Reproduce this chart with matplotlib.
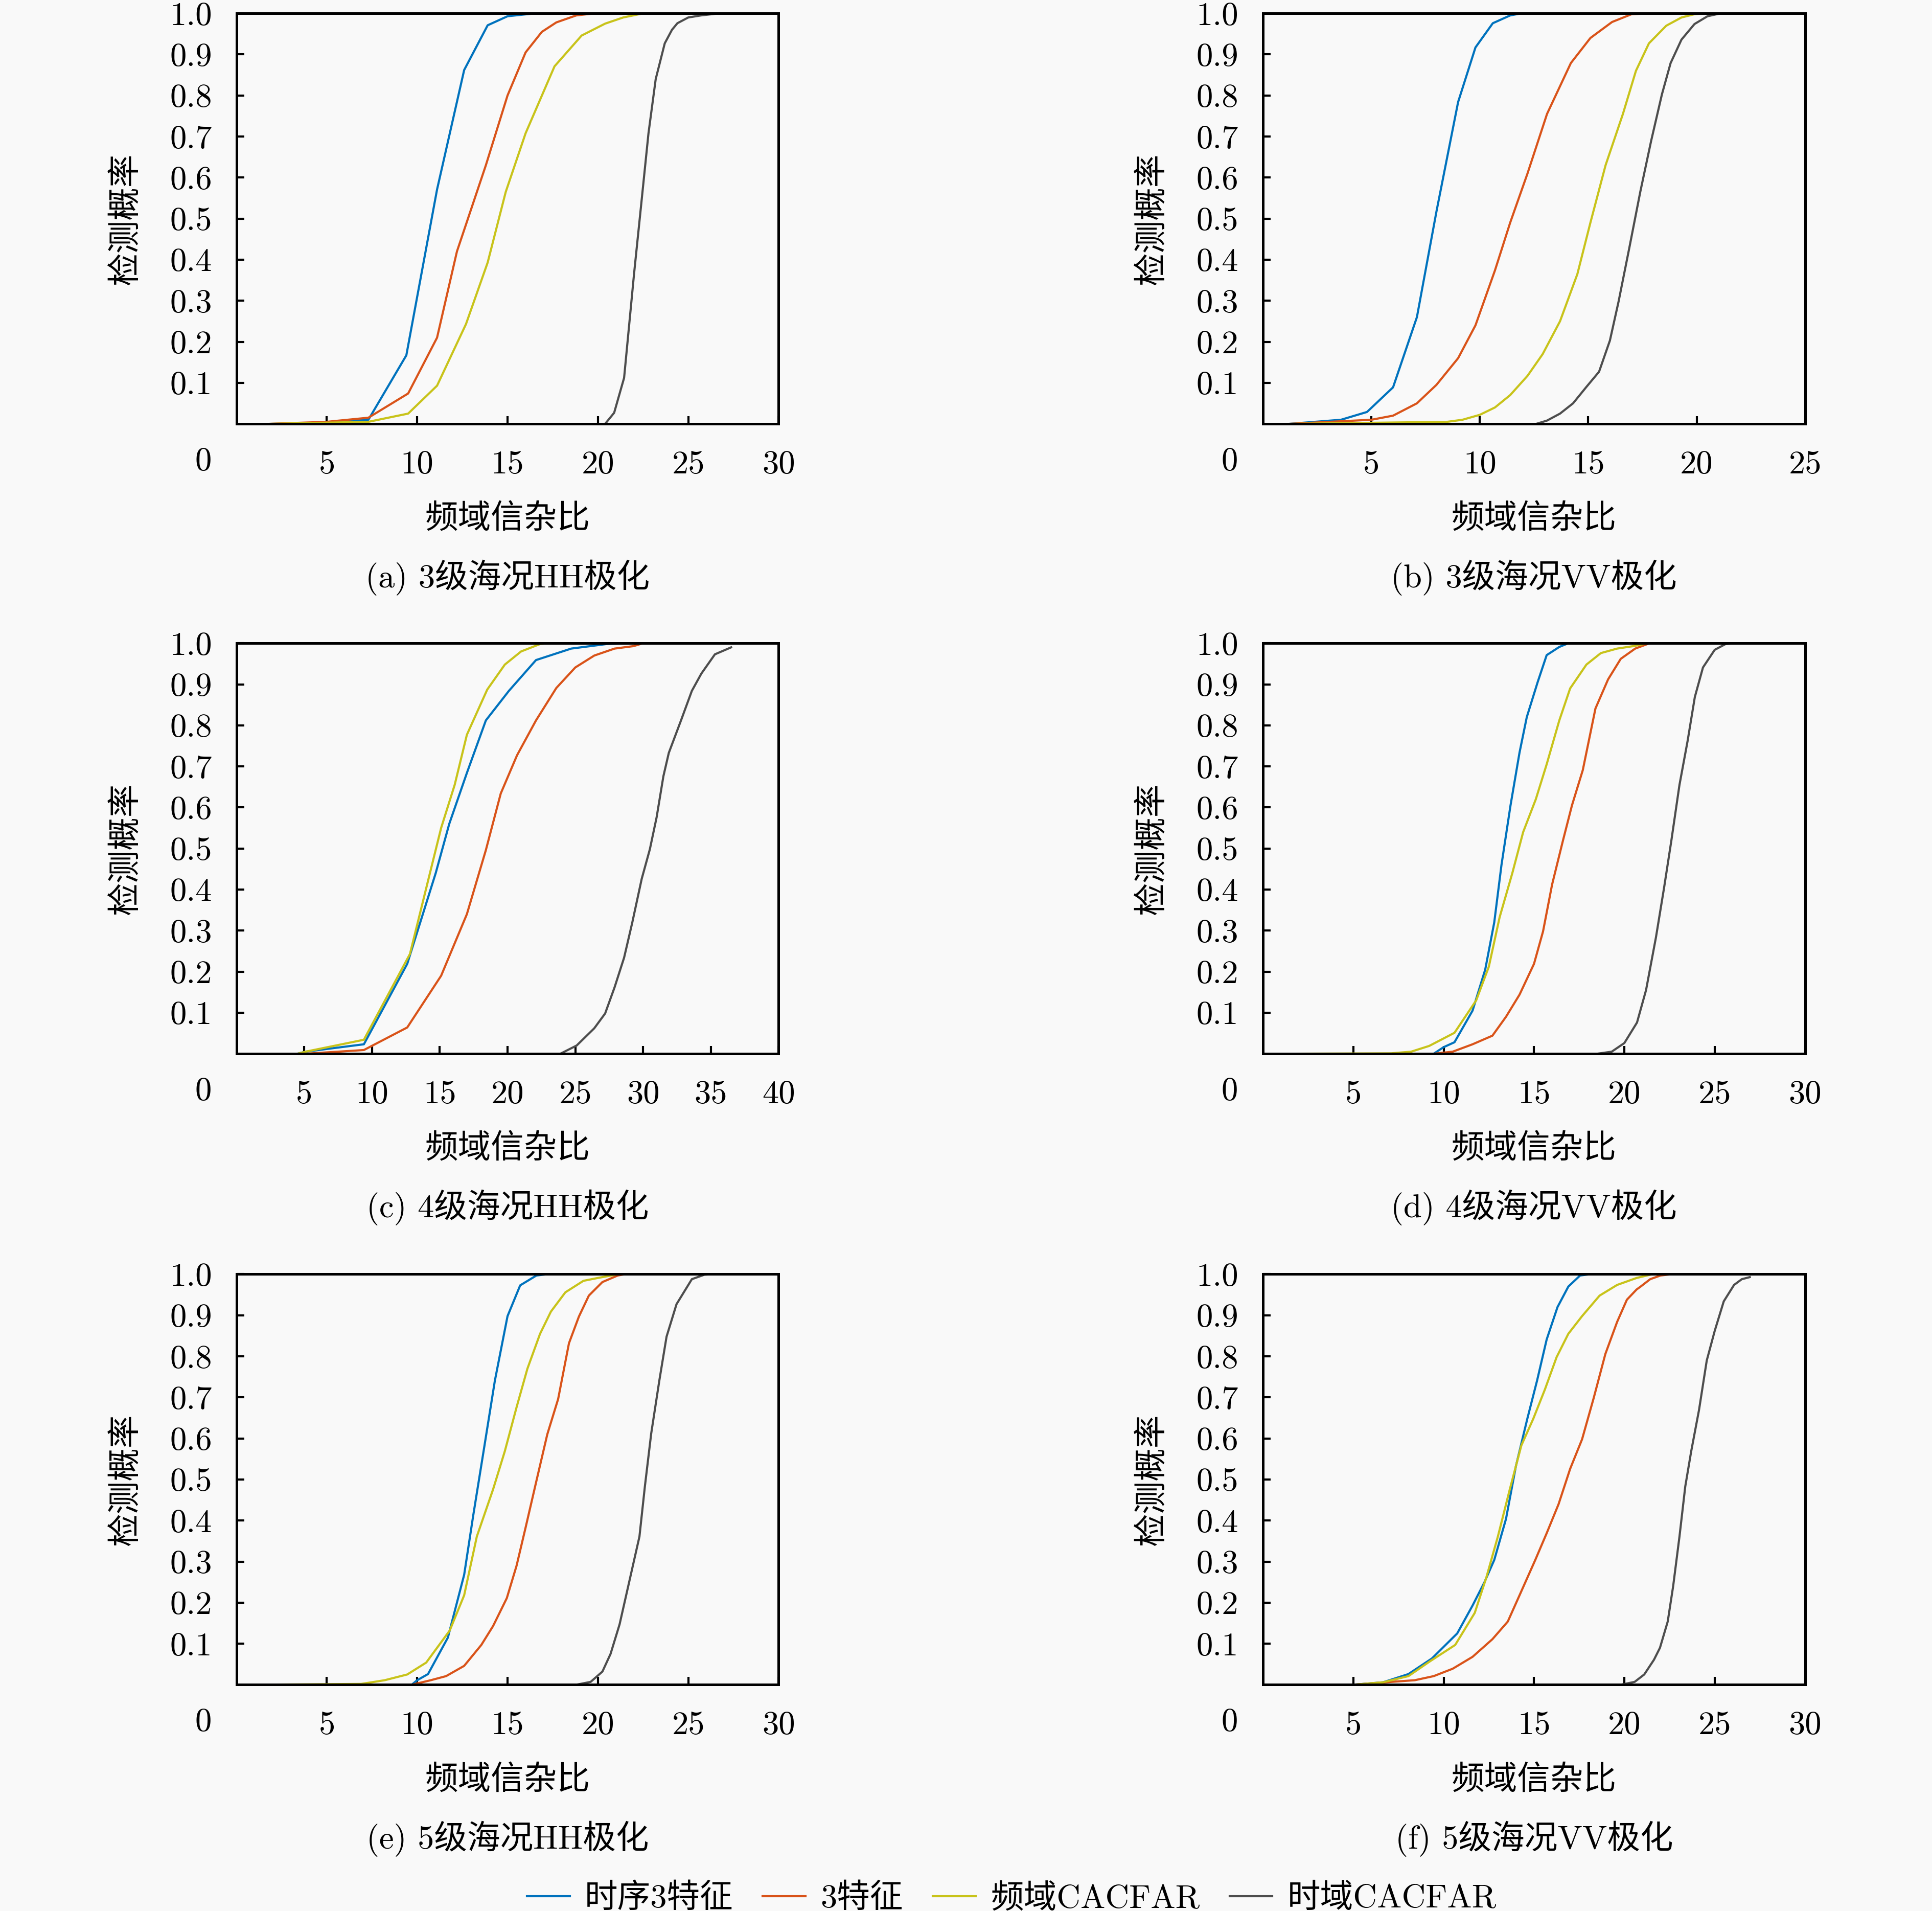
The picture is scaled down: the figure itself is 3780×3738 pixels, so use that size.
import matplotlib
matplotlib.use('Agg')
import matplotlib.pyplot as plt

plt.rcParams['font.family'] = ['cmr10', 'Noto Sans CJK SC']
plt.rcParams['axes.formatter.use_mathtext'] = True
plt.rcParams['font.size'] = 15.5

# ---- data (x = 频域信杂比, y = 检测概率) ----
# (a) 3级海况HH极化
a_t3_x = [1.8, 5.0, 7.3, 9.4, 11.1, 12.6, 13.9, 15.0, 16.5, 28.0]
a_t3_y = [0.0, 0.003, 0.01, 0.167, 0.571, 0.862, 0.971, 0.993, 1.0, 1.0]
a_f3_x = [1.8, 5.0, 7.3, 9.5, 11.1, 12.2, 13.8, 15.0, 16.0, 16.9, 17.7, 18.8, 19.8, 28.0]
a_f3_y = [0.0, 0.005, 0.015, 0.074, 0.21, 0.42, 0.63, 0.80, 0.905, 0.955, 0.978, 0.995, 1.0, 1.0]
a_fq_x = [1.8, 7.3, 9.5, 11.1, 12.7, 13.9, 14.9, 16.0, 17.6, 19.1, 20.4, 21.4, 22.5, 28.0]
a_fq_y = [0.0, 0.005, 0.025, 0.093, 0.243, 0.393, 0.565, 0.708, 0.871, 0.946, 0.975, 0.99, 1.0, 1.0]
a_tm_x = [1.8, 20.4, 20.9, 21.45, 22.0, 22.4, 22.8, 23.2, 23.7, 24.1, 24.4, 25.0, 25.7, 26.7, 28.0]
a_tm_y = [0.0, 0.0, 0.027, 0.112, 0.365, 0.536, 0.708, 0.84, 0.927, 0.96, 0.976, 0.99, 0.995, 1.0, 1.0]

# (b) 3级海况VV极化
b_t3_x = [1.2, 3.6, 4.8, 6.0, 7.1, 8.0, 9.0, 9.8, 10.6, 11.4, 11.9, 22.0]
b_t3_y = [0.0, 0.01, 0.029, 0.089, 0.26, 0.517, 0.784, 0.917, 0.976, 0.995, 1.0, 1.0]
b_f3_x = [1.2, 5.0, 6.0, 7.1, 8.0, 9.0, 9.8, 10.7, 11.4, 12.2, 13.1, 14.2, 15.1, 16.1, 17.0, 17.8, 22.0]
b_f3_y = [0.0, 0.01, 0.02, 0.05, 0.095, 0.16, 0.24, 0.374, 0.49, 0.61, 0.755, 0.879, 0.94, 0.979, 0.998, 1.0, 1.0]
b_fq_x = [1.2, 8.5, 9.2, 10.0, 10.7, 11.4, 12.2, 12.9, 13.7, 14.5, 15.1, 15.8, 16.6, 17.2, 17.8, 18.6, 19.3, 19.9, 20.4, 22.0]
b_fq_y = [0.0, 0.005, 0.01, 0.022, 0.04, 0.07, 0.117, 0.17, 0.25, 0.365, 0.49, 0.63, 0.755, 0.86, 0.927, 0.97, 0.99, 0.998, 1.0, 1.0]
b_tm_x = [1.2, 12.6, 13.1, 13.7, 14.3, 14.9, 15.5, 16.0, 16.4, 16.9, 17.4, 17.9, 18.4, 18.8, 19.3, 19.9, 20.5, 21.1, 22.0]
b_tm_y = [0.0, 0.0, 0.008, 0.025, 0.05, 0.089, 0.127, 0.203, 0.298, 0.43, 0.565, 0.689, 0.803, 0.879, 0.936, 0.974, 0.993, 1.0, 1.0]

# (c) 4级海况HH极化
c_t3_x = [4.5, 5.1, 9.4, 12.6, 14.7, 15.7, 17.0, 18.4, 20.1, 22.1, 24.7, 27.3, 29.3, 31.0]
c_t3_y = [0.0, 0.005, 0.023, 0.219, 0.44, 0.56, 0.684, 0.812, 0.884, 0.959, 0.987, 0.998, 1.0, 1.0]
c_f3_x = [4.5, 5.1, 9.4, 12.6, 15.1, 17.0, 18.4, 19.5, 20.7, 22.1, 23.6, 25.0, 26.4, 27.9, 29.3, 30.0, 31.0]
c_f3_y = [0.0, 0.0, 0.009, 0.064, 0.19, 0.34, 0.496, 0.634, 0.727, 0.812, 0.891, 0.941, 0.97, 0.987, 0.993, 1.0, 1.0]
c_fq_x = [4.5, 5.1, 9.4, 12.8, 13.9, 15.1, 16.1, 17.0, 18.5, 19.8, 21.0, 22.4, 23.0, 31.0]
c_fq_y = [0.0, 0.005, 0.034, 0.243, 0.39, 0.55, 0.655, 0.777, 0.887, 0.948, 0.98, 0.998, 1.0, 1.0]
c_tm_x = [4.5, 23.9, 25.1, 26.4, 27.2, 27.9, 28.6, 29.2, 29.9, 30.5, 31.0, 31.5, 31.9, 32.8, 33.6, 34.3, 35.3, 36.5]
c_tm_y = [0.0, 0.0, 0.02, 0.062, 0.098, 0.162, 0.234, 0.319, 0.426, 0.498, 0.576, 0.676, 0.733, 0.812, 0.884, 0.926, 0.973, 0.99]

# (d) 4级海况VV极化
d_t3_x = [1.5, 9.45, 10.0, 10.6, 11.6, 12.3, 12.8, 13.2, 13.7, 14.2, 14.6, 15.2, 15.7, 16.4, 16.9, 26.0]
d_t3_y = [0.0, 0.0, 0.016, 0.028, 0.105, 0.205, 0.32, 0.46, 0.605, 0.734, 0.82, 0.905, 0.971, 0.991, 1.0, 1.0]
d_f3_x = [1.5, 9.45, 10.5, 11.6, 12.7, 13.45, 14.2, 15.0, 15.5, 16.0, 16.6, 17.1, 17.7, 18.4, 19.1, 19.8, 20.6, 21.4, 26.0]
d_f3_y = [0.0, 0.0, 0.005, 0.023, 0.044, 0.09, 0.144, 0.219, 0.298, 0.412, 0.519, 0.605, 0.691, 0.841, 0.912, 0.962, 0.987, 1.0, 1.0]
d_fq_x = [1.5, 7.1, 8.2, 9.2, 10.6, 11.8, 12.5, 13.1, 13.8, 14.4, 15.1, 15.7, 16.4, 17.0, 17.9, 18.7, 19.6, 20.5, 21.3, 26.0]
d_fq_y = [0.0, 0.001, 0.005, 0.019, 0.051, 0.13, 0.212, 0.333, 0.44, 0.54, 0.62, 0.705, 0.812, 0.89, 0.948, 0.976, 0.987, 0.993, 1.0, 1.0]
d_tm_x = [1.5, 18.5, 19.3, 20.0, 20.7, 21.2, 21.75, 22.2, 22.6, 23.05, 23.5, 23.9, 24.35, 25.0, 25.6, 26.1, 28.0]
d_tm_y = [0.0, 0.0, 0.005, 0.026, 0.076, 0.155, 0.284, 0.405, 0.519, 0.655, 0.762, 0.869, 0.941, 0.984, 0.998, 1.0, 1.0]

# (e) 5级海况HH极化
e_t3_x = [1.0, 9.7, 10.0, 10.6, 11.7, 12.6, 13.1, 13.7, 14.3, 15.0, 15.7, 16.6, 17.2, 26.0]
e_t3_y = [0.0, 0.0, 0.011, 0.026, 0.115, 0.268, 0.412, 0.576, 0.741, 0.898, 0.973, 0.997, 1.0, 1.0]
e_f3_x = [1.0, 9.7, 10.75, 11.6, 12.6, 13.55, 14.2, 14.96, 15.5, 16.0, 16.6, 17.2, 17.8, 18.4, 18.95, 19.5, 20.25, 21.1, 21.5, 26.0]
e_f3_y = [0.0, 0.0, 0.011, 0.021, 0.046, 0.097, 0.143, 0.211, 0.29, 0.383, 0.497, 0.61, 0.696, 0.832, 0.897, 0.948, 0.981, 0.997, 1.0, 1.0]
e_fq_x = [1.0, 6.9, 8.2, 9.45, 10.5, 11.8, 12.6, 13.3, 14.2, 14.85, 15.5, 16.1, 16.8, 17.4, 18.2, 19.2, 20.0, 21.1, 26.0]
e_fq_y = [0.0, 0.002, 0.011, 0.025, 0.054, 0.132, 0.218, 0.361, 0.476, 0.569, 0.676, 0.77, 0.855, 0.909, 0.956, 0.984, 0.991, 1.0, 1.0]
e_tm_x = [1.0, 18.8, 19.6, 20.25, 20.7, 21.2, 21.75, 22.3, 22.6, 22.95, 23.4, 23.8, 24.35, 25.2, 25.9, 26.3, 28.0]
e_tm_y = [0.0, 0.0, 0.007, 0.032, 0.075, 0.147, 0.254, 0.361, 0.483, 0.612, 0.741, 0.848, 0.927, 0.988, 0.999, 1.0, 1.0]

# (f) 5级海况VV极化
f_t3_x = [1.0, 5.0, 6.65, 8.05, 9.35, 10.75, 11.6, 12.26, 12.8, 13.45, 14.0, 14.63, 15.17, 15.7, 16.3, 16.9, 17.55, 18.1, 26.0]
f_t3_y = [0.0, 0.0, 0.006, 0.026, 0.064, 0.125, 0.193, 0.25, 0.304, 0.404, 0.533, 0.648, 0.741, 0.841, 0.92, 0.97, 0.997, 1.0, 1.0]
f_f3_x = [1.0, 5.0, 7.1, 8.4, 9.45, 10.5, 11.6, 12.7, 13.55, 14.2, 15.07, 15.7, 16.36, 17.0, 17.66, 18.3, 18.95, 19.6, 20.14, 20.68, 20.9, 21.43, 22.0, 22.6, 26.0]
f_f3_y = [0.0, 0.0, 0.007, 0.011, 0.021, 0.039, 0.068, 0.111, 0.154, 0.218, 0.304, 0.369, 0.44, 0.526, 0.598, 0.698, 0.806, 0.884, 0.938, 0.963, 0.97, 0.988, 0.997, 1.0, 1.0]
f_fq_x = [1.0, 5.0, 6.65, 8.05, 9.24, 10.64, 11.72, 12.36, 13.0, 13.66, 14.3, 14.96, 15.6, 16.25, 16.9, 17.66, 18.63, 19.6, 20.68, 21.54, 26.0]
f_fq_y = [0.0, 0.0, 0.006, 0.021, 0.057, 0.097, 0.175, 0.261, 0.361, 0.476, 0.583, 0.648, 0.719, 0.798, 0.855, 0.898, 0.948, 0.974, 0.991, 1.0, 1.0]
f_tm_x = [1.0, 19.8, 20.57, 21.1, 21.64, 21.97, 22.4, 22.7, 23.05, 23.37, 23.7, 24.13, 24.56, 25.0, 25.5, 26.07, 26.5, 26.94]
f_tm_y = [0.0, 0.0, 0.007, 0.025, 0.061, 0.09, 0.154, 0.24, 0.361, 0.483, 0.569, 0.669, 0.79, 0.862, 0.934, 0.974, 0.988, 0.993]

x_max = [30, 25, 40, 30, 30, 30]
captions = ['(a) 3级海况HH极化', '(b) 3级海况VV极化', '(c) 4级海况HH极化',
            '(d) 4级海况VV极化', '(e) 5级海况HH极化', '(f) 5级海况VV极化']
series_names = ['时序3特征', '3特征', '频域CACFAR', '时域CACFAR']
series_colors = ['#0072BD', '#D95319', '#C8C31A', '#4D4D4D']

panels = [
    [(a_t3_x, a_t3_y), (a_f3_x, a_f3_y), (a_fq_x, a_fq_y), (a_tm_x, a_tm_y)],
    [(b_t3_x, b_t3_y), (b_f3_x, b_f3_y), (b_fq_x, b_fq_y), (b_tm_x, b_tm_y)],
    [(c_t3_x, c_t3_y), (c_f3_x, c_f3_y), (c_fq_x, c_fq_y), (c_tm_x, c_tm_y)],
    [(d_t3_x, d_t3_y), (d_f3_x, d_f3_y), (d_fq_x, d_fq_y), (d_tm_x, d_tm_y)],
    [(e_t3_x, e_t3_y), (e_f3_x, e_f3_y), (e_fq_x, e_fq_y), (e_tm_x, e_tm_y)],
    [(f_t3_x, f_t3_y), (f_f3_x, f_f3_y), (f_fq_x, f_fq_y), (f_tm_x, f_tm_y)],
]

bg = '#f9f9f9'
fig = plt.figure(figsize=(12.6, 12.46), dpi=300, facecolor=bg)

lefts = [0.1224, 0.6537]
bottoms = [0.7782, 0.4486, 0.1184]
w, h = 0.2806, 0.2148

handles = []
for i, series in enumerate(panels):
    row, col = divmod(i, 2)
    ax = fig.add_axes([lefts[col], bottoms[row], w, h], facecolor=bg)
    for k, (xs, ys) in enumerate(series):
        ln, = ax.plot(xs, ys, color=series_colors[k], lw=1.0, label=series_names[k])
        if i == 0:
            handles.append(ln)
    xm = x_max[i]
    ax.set_xlim(0, xm)
    ax.set_ylim(0, 1)
    ax.set_xticks(list(range(5, xm + 1, 5)))
    ax.set_xticklabels([str(v) for v in range(5, xm + 1, 5)])
    yt = [round(0.1 * j, 1) for j in range(1, 11)]
    ax.set_yticks(yt)
    ax.set_yticklabels([f'{v:.1f}' for v in yt])
    ax.tick_params(direction='in', length=3.5, width=1.0, labelsize=15.5)
    ax.tick_params(axis='x', pad=12.5)
    ax.tick_params(axis='y', pad=11.5)
    for sp in ax.spines.values():
        sp.set_linewidth(1.2)
    ax.text(-0.0614, -0.093, '0', transform=ax.transAxes, ha='center', va='center', fontsize=15.5)
    ax.text(0.5, -0.234, '频域信杂比', transform=ax.transAxes, ha='center', va='center', fontsize=15.5)
    ax.text(-0.203, 0.5, '检测概率', transform=ax.transAxes, ha='center', va='center',
            rotation=90, fontsize=15.5)
    ax.text(0.5, -0.375, captions[i], transform=ax.transAxes, ha='center', va='center', fontsize=15.5)

fig.legend(handles=handles, labels=series_names, loc='center', bbox_to_anchor=(0.5236, 0.0063),
           ncol=4, frameon=False, fontsize=15.5, handlelength=1.3, handletextpad=0.45,
           columnspacing=0.9)

fig.savefig('out.png', dpi=300, facecolor=bg)
